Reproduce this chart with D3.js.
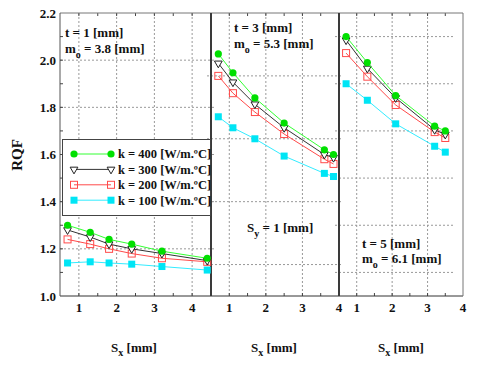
<!DOCTYPE html>
<html>
<head>
<meta charset="utf-8">
<script src="https://cdn.jsdelivr.net/npm/d3@7"></script>
<style>
  body { margin: 0; background: #fff; }
  svg text { font-family: "Times New Roman", "Liberation Serif", Times, serif; font-weight: bold; fill: #111; }
</style>
</head>
<body>
<div class="chart"></div>
<script>
// legend categories
var kLabels = ["k = 400 [W/m.ºC]", "k = 300 [W/m.ºC]", "k = 200 [W/m.ºC]", "k = 100 [W/m.ºC]"];

// panel 1 : t = 1 mm
var sx1 = [0.7, 1.3, 1.8, 2.4, 3.2, 4.4];
var rqf1_k400 = [1.30, 1.27, 1.24, 1.22, 1.19, 1.16];
var rqf1_k300 = [1.28, 1.25, 1.22, 1.20, 1.18, 1.15];
var rqf1_k200 = [1.24, 1.22, 1.20, 1.18, 1.16, 1.145];
var rqf1_k100 = [1.14, 1.145, 1.14, 1.135, 1.125, 1.11];

// panel 2 : t = 3 mm
var sx2 = [0.7, 1.1, 1.7, 2.5, 3.6, 3.85];
var rqf2_k400 = [1.87, 1.81, 1.73, 1.65, 1.565, 1.55];
var rqf2_k300 = [1.84, 1.78, 1.71, 1.635, 1.55, 1.54];
var rqf2_k200 = [1.80, 1.745, 1.685, 1.615, 1.535, 1.52];
var rqf2_k100 = [1.67, 1.635, 1.60, 1.545, 1.49, 1.48];

// panel 3 : t = 5 mm
var sx3 = [0.7, 1.3, 2.1, 3.2, 3.5];
var rqf3_k400 = [2.20, 2.09, 1.95, 1.82, 1.80];
var rqf3_k300 = [2.185, 2.065, 1.94, 1.805, 1.785];
var rqf3_k200 = [2.13, 2.03, 1.91, 1.795, 1.77];
var rqf3_k100 = [2.00, 1.93, 1.83, 1.735, 1.71];

// tick labels
var xTicks1 = [1, 2, 3, 4];
var xTicks23 = [1, 2, 3, 4];
var yTicks1 = [1.0, 1.2, 1.4, 1.6, 1.8, 2.0, 2.2];
var yGrid1 = [1.2, 1.4, 1.6, 1.8, 2.0];
var yGrid2 = [1.2, 1.4, 1.6, 1.8];
var yGrid3 = [1.2, 1.4, 1.6, 1.8, 2.0, 2.2];

var plotTop = 13, plotBottom = 296;
var colors = ["#00e000", "#333333", "#ff4a4a", "#00e5f5"];
var lineColors = ["#33ff33", "#333333", "#ff4a4a", "#33ecff"];

var panels = [
  {x0: 60, x1: 211, xd: [0.5, 4.5], yd: [1.0, 2.2], sx: sx1, series: [rqf1_k400, rqf1_k300, rqf1_k200, rqf1_k100],
   xg: [1, 2, 3, 4], yg: yGrid1, gx0: 60, gx1: 215},
  {x0: 211, x1: 339, xd: [0.5, 4.0], yd: [1.1, 2.0], sx: sx2, series: [rqf2_k400, rqf2_k300, rqf2_k200, rqf2_k100],
   xg: [1, 2, 3], yg: yGrid2, gx0: 207, gx1: 343},
  {x0: 339, x1: 463, xd: [0.5, 4.0], yd: [1.1, 2.3], sx: sx3, series: [rqf3_k400, rqf3_k300, rqf3_k200, rqf3_k100],
   xg: [1, 2, 3], yg: yGrid3, gx0: 335, gx1: 454}
];

var svg = d3.select(".chart").append("svg")
  .attr("width", 480)
  .attr("height", 365);

panels.forEach(function(p){
  p.x = d3.scaleLinear().domain(p.xd).range([p.x0, p.x1]);
  p.y = d3.scaleLinear().domain(p.yd).range([plotBottom, plotTop]);
});

// gridlines
panels.forEach(function(p){
  var g = svg.append("g");
  g.selectAll("line.v").data(p.xg).enter().append("line")
    .attr("x1", function(d){return p.x(d);}).attr("x2", function(d){return p.x(d);})
    .attr("y1", plotTop).attr("y2", plotBottom)
    .attr("stroke", "#999").attr("stroke-dasharray", "2,2");
  g.selectAll("line.h").data(p.yg).enter().append("line")
    .attr("x1", p.gx0).attr("x2", p.gx1)
    .attr("y1", function(d){return p.y(d);}).attr("y2", function(d){return p.y(d);})
    .attr("stroke", "#999").attr("stroke-dasharray", "2,2");
  // small inner ticks, bottom and top
  var minor = d3.range(p.xd[0] + 0.5, p.xd[1], 0.5);
  g.selectAll("line.tb").data(minor).enter().append("line")
    .attr("x1", function(d){return p.x(d);}).attr("x2", function(d){return p.x(d);})
    .attr("y1", plotBottom).attr("y2", plotBottom - 3).attr("stroke", "#444");
  g.selectAll("line.tt").data(minor).enter().append("line")
    .attr("x1", function(d){return p.x(d);}).attr("x2", function(d){return p.x(d);})
    .attr("y1", plotTop).attr("y2", plotTop + 3).attr("stroke", "#444");
});

// frame
svg.append("line").attr("x1", 60).attr("x2", 463).attr("y1", plotTop).attr("y2", plotTop).attr("stroke", "#777");
svg.append("line").attr("x1", 60).attr("x2", 463).attr("y1", plotBottom).attr("y2", plotBottom).attr("stroke", "#333");
svg.append("line").attr("x1", 60).attr("x2", 60).attr("y1", plotTop).attr("y2", plotBottom).attr("stroke", "#555");
svg.append("line").attr("x1", 463).attr("x2", 463).attr("y1", plotTop).attr("y2", plotBottom).attr("stroke", "#777");
[211, 339].forEach(function(xx){
  svg.append("line").attr("x1", xx).attr("x2", xx).attr("y1", plotTop).attr("y2", plotBottom)
    .attr("stroke", "#3a3a3a").attr("stroke-width", 2);
});

// y axis of panel 1 (left)
var y1 = panels[0].y;
svg.append("g").selectAll("line").data(d3.range(1.1, 2.2, 0.1)).enter().append("line")
  .attr("x1", 60).attr("x2", 63)
  .attr("y1", function(d){return y1(d);}).attr("y2", function(d){return y1(d);})
  .attr("stroke", "#444");
svg.append("g").selectAll("text").data(yTicks1).enter().append("text")
  .attr("x", 56).attr("y", function(d){return y1(d);})
  .attr("dy", "0.35em").attr("text-anchor", "end").attr("font-size", 13)
  .text(function(d){return d.toFixed(1);});

svg.append("text")
  .attr("transform", "translate(22,155) rotate(-90)")
  .attr("text-anchor", "middle").attr("font-size", 15)
  .text("RQF");

// x tick labels and titles
panels.forEach(function(p, i){
  var ticks = i === 0 ? xTicks1 : xTicks23;
  svg.append("g").selectAll("text").data(ticks).enter().append("text")
    .attr("x", function(d){return p.x(d);}).attr("y", 312)
    .attr("text-anchor", "middle").attr("font-size", 13)
    .text(function(d){return d;});
});
var sxCenters = [134, 274, 401];
sxCenters.forEach(function(cx){
  var t = svg.append("text").attr("x", cx).attr("y", 352)
    .attr("text-anchor", "middle").attr("font-size", 13);
  t.append("tspan").text("S");
  t.append("tspan").attr("dy", 4).attr("font-size", 10).text("x");
  t.append("tspan").attr("dy", -4).text(" [mm]");
});

// series
var shapes = ["circle", "triangle", "square", "fsquare"];
function drawMarker(g, kind, cx, cy, col){
  if (kind === "circle") {
    g.append("circle").attr("cx", cx).attr("cy", cy).attr("r", 3.6).attr("fill", col);
  } else if (kind === "triangle") {
    g.append("path").attr("d", d3.symbol().type(d3.symbolTriangle).size(26))
      .attr("transform", "translate(" + cx + "," + cy + ") rotate(180)")
      .attr("fill", "#fff").attr("stroke", "#222").attr("stroke-width", 1);
  } else if (kind === "square") {
    g.append("rect").attr("x", cx - 3.5).attr("y", cy - 3.5).attr("width", 7).attr("height", 7)
      .attr("fill", "#fff").attr("fill-opacity", 0).attr("stroke", col);
  } else {
    g.append("rect").attr("x", cx - 3.5).attr("y", cy - 3.5).attr("width", 7).attr("height", 7)
      .attr("fill", col);
  }
}

// draw k=100 first so k=400 stays on top
panels.forEach(function(p){
  var g = svg.append("g");
  [3, 2, 1, 0].forEach(function(s){
    var pts = p.sx.map(function(v, i){ return [p.x(v), p.y(p.series[s][i])]; });
    g.append("path")
      .attr("d", d3.line()(pts))
      .attr("fill", "none").attr("stroke", lineColors[s]).attr("stroke-width", 1);
    pts.forEach(function(pt){ drawMarker(g, shapes[s], pt[0], pt[1], colors[s]); });
  });
});

// legend
var lg = svg.append("g");
lg.append("rect").attr("x", 62.5).attr("y", 139.5).attr("width", 148).attr("height", 76)
  .attr("fill", "#fff").attr("stroke", "#444");
kLabels.forEach(function(lbl, s){
  var yy = 154 + s * 15.4;
  lg.append("line").attr("x1", 74).attr("x2", 111).attr("y1", yy).attr("y2", yy)
    .attr("stroke", lineColors[s]);
  drawMarker(lg, shapes[s], 74, yy, colors[s]);
  drawMarker(lg, shapes[s], 111, yy, colors[s]);
  lg.append("text").attr("x", 118).attr("y", yy).attr("dy", "0.35em")
    .attr("font-size", 12.5).text(lbl);
});

// annotations
function note(x, y, parts){
  var t = svg.append("text").attr("x", x).attr("y", y).attr("font-size", 13);
  t.append("tspan").text(parts[0]);
  t.append("tspan").attr("dy", 5).attr("font-size", 10).text(parts[1]);
  t.append("tspan").attr("dy", -5).text(parts[2]);
}
svg.append("text").attr("x", 65).attr("y", 37).attr("font-size", 13).text("t = 1 [mm]");
note(65, 53, ["m", "o", " = 3.8 [mm]"]);
svg.append("text").attr("x", 234).attr("y", 32).attr("font-size", 13).text("t = 3 [mm]");
note(234, 48, ["m", "o", " = 5.3 [mm]"]);
note(247, 232, ["S", "y", " = 1 [mm]"]);
svg.append("text").attr("x", 362).attr("y", 248).attr("font-size", 13).text("t = 5 [mm]");
note(362, 263, ["m", "o", " = 6.1 [mm]"]);
</script>
</body>
</html>
